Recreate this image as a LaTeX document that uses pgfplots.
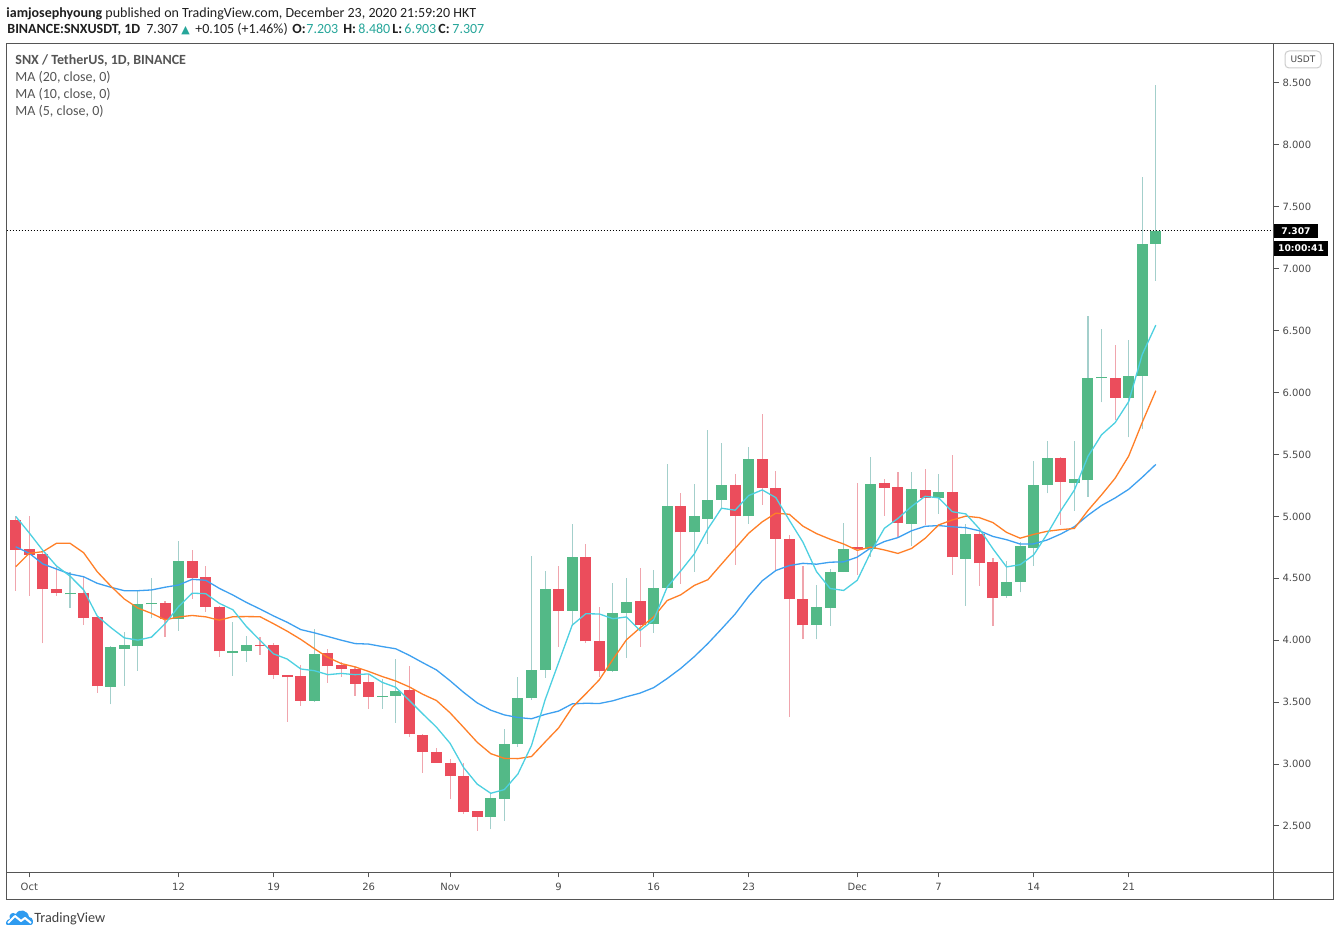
\documentclass[border=0pt]{standalone}
\usepackage{pgfplots}
\pgfplotsset{compat=1.18}
\usepackage{pgfplotstable}
\usepackage{fontspec}
\setmainfont{Carlito}
\newfontfamily\axf{DejaVu Sans}
\definecolor{upbody}{HTML}{53B987}
\definecolor{dnbody}{HTML}{EB4D5C}
\definecolor{upwick}{HTML}{A3CFCB}
\definecolor{dnwick}{HTML}{F0A5AD}
\definecolor{maA}{HTML}{3DA0F0}
\definecolor{maB}{HTML}{FF7F27}
\definecolor{maC}{HTML}{4DD0E1}
\definecolor{framecol}{HTML}{555555}
\definecolor{labcol}{HTML}{4A4A4A}
\definecolor{legcol}{HTML}{555555}
\definecolor{tealv}{HTML}{26A69A}
\definecolor{hdrcol}{HTML}{1F1F1F}
\definecolor{tvblue}{HTML}{2E9BF0}

% up (green) candles: day index (0 = Sep 30), open, high, low, close
\pgfplotstableread{
d o h l c
4 4.37 4.553 4.261 4.38
7 3.625 3.955 3.483 3.945
8 3.93 4.067 3.633 3.96
9 3.95 4.406 3.753 4.29
10 4.29 4.503 4.176 4.30
12 4.17 4.802 4.077 4.64
16 3.90 4.147 3.713 3.91
17 3.91 4.034 3.826 3.96
22 3.51 4.091 3.503 3.89
27 3.54 3.691 3.446 3.55
28 3.55 3.849 3.334 3.59
35 2.57 2.769 2.473 2.73
36 2.72 3.287 2.543 3.16
37 3.16 3.705 3.14 3.53
38 3.53 4.68 3.518 3.76
39 3.76 4.559 3.696 4.41
41 4.24 4.939 4.115 4.67
44 3.75 4.462 3.746 4.22
45 4.22 4.503 3.858 4.31
47 4.13 4.567 4.061 4.42
48 4.42 5.423 4.42 5.08
50 4.87 5.262 4.553 5.00
51 4.98 5.698 4.778 5.13
52 5.135 5.593 5.061 5.25
54 5.00 5.561 4.942 5.46
59 4.125 4.446 4.006 4.27
60 4.26 4.576 4.116 4.55
61 4.55 4.947 4.55 4.74
63 4.74 5.48 4.674 5.26
66 4.94 5.359 4.762 5.22
68 5.15 5.343 5.02 5.20
70 4.66 4.939 4.277 4.86
73 4.36 4.642 4.342 4.47
74 4.47 4.795 4.387 4.76
75 4.745 5.446 4.602 5.255
76 5.255 5.607 5.185 5.47
78 5.27 5.607 5.044 5.30
79 5.29 6.619 5.157 6.12
80 6.115 6.515 5.921 6.125
82 5.955 6.425 5.638 6.13
83 6.135 7.741 5.703 7.203
84 7.203 8.48 6.903 7.307
}\upc

% down (red) candles
\pgfplotstableread{
d o h l c
0 4.97 5.00 4.40 4.73
1 4.735 5.00 4.36 4.69
2 4.70 4.72 3.975 4.41
3 4.41 4.589 4.36 4.38
5 4.38 4.507 4.126 4.18
6 4.19 4.19 3.576 3.63
11 4.30 4.317 4.028 4.17
13 4.64 4.729 4.337 4.50
14 4.51 4.60 4.229 4.27
15 4.27 4.28 3.867 3.91
18 3.96 4.023 3.881 3.95
19 3.96 3.974 3.687 3.72
20 3.72 3.72 3.342 3.70
21 3.71 3.80 3.47 3.51
23 3.90 3.933 3.658 3.79
24 3.80 3.826 3.705 3.77
25 3.77 3.786 3.551 3.65
26 3.66 3.731 3.446 3.54
29 3.60 3.793 3.221 3.24
30 3.235 3.24 2.929 3.10
31 3.10 3.133 3.01 3.01
32 3.01 3.037 2.715 2.90
33 2.90 3.006 2.60 2.61
34 2.62 2.62 2.462 2.57
40 4.41 4.60 3.948 4.24
42 4.67 4.777 3.98 3.99
43 3.99 4.269 3.705 3.75
46 4.32 4.584 3.946 4.12
49 5.08 5.189 4.455 4.87
53 5.25 5.343 4.61 5.00
55 5.46 5.827 5.093 5.23
56 5.23 5.367 4.567 4.82
57 4.82 4.85 3.383 4.33
58 4.33 4.60 4.006 4.12
62 4.75 5.27 4.527 4.74
64 5.27 5.302 5.006 5.23
65 5.24 5.359 4.826 4.95
67 5.21 5.383 4.933 5.15
69 5.20 5.496 4.53 4.67
71 4.86 4.89 4.439 4.62
72 4.63 4.664 4.116 4.34
77 5.47 5.482 4.931 5.28
81 6.12 6.388 5.78 5.96
}\dnc

% moving averages: MA5, MA10, MA20
\pgfplotstableread{
d m5 m10 m20
0 5.00 4.594 4.755
1 4.866 4.702 4.702
2 4.725 4.715 4.616
3 4.60 4.783 4.575
4 4.518 4.783 4.535
5 4.408 4.707 4.513
6 4.196 4.554 4.46
7 4.103 4.438 4.428
8 4.019 4.333 4.40
9 4.001 4.26 4.40
10 4.025 4.217 4.406
11 4.133 4.165 4.428
12 4.272 4.188 4.446
13 4.38 4.20 4.492
14 4.376 4.189 4.484
15 4.298 4.162 4.419
16 4.246 4.19 4.365
17 4.11 4.191 4.305
18 4.00 4.19 4.252
19 3.89 4.133 4.196
20 3.848 4.073 4.145
21 3.768 4.007 4.086
22 3.754 3.932 4.06
23 3.722 3.861 4.03
24 3.732 3.811 4.00
25 3.722 3.785 3.973
26 3.728 3.748 3.969
27 3.66 3.707 3.949
28 3.62 3.671 3.931
29 3.514 3.623 3.878
30 3.404 3.563 3.818
31 3.298 3.513 3.76
32 3.168 3.414 3.673
33 2.972 3.296 3.579
34 2.838 3.176 3.494
35 2.764 3.084 3.435
36 2.794 3.046 3.397
37 2.92 3.044 3.376
38 3.15 3.061 3.366
39 3.518 3.178 3.401
40 3.82 3.292 3.428
41 4.122 3.458 3.486
42 4.214 3.567 3.491
43 4.212 3.681 3.489
44 4.174 3.846 3.511
45 4.188 4.004 3.544
46 4.078 4.10 3.573
47 4.164 4.189 3.617
48 4.43 4.321 3.691
49 4.56 4.367 3.773
50 4.698 4.443 3.868
51 4.90 4.489 3.974
52 5.066 4.615 4.091
53 5.05 4.74 4.211
54 5.168 4.864 4.355
55 5.214 4.956 4.48
56 5.152 5.026 4.563
57 4.968 5.017 4.603
58 4.792 4.921 4.621
59 4.554 4.861 4.614
60 4.418 4.816 4.63
61 4.402 4.777 4.633
62 4.484 4.726 4.671
63 4.712 4.752 4.746
64 4.904 4.729 4.797
65 4.984 4.701 4.829
66 5.08 4.741 4.884
67 5.162 4.823 4.92
68 5.15 4.931 4.926
69 5.038 4.971 4.916
70 5.02 5.002 4.909
71 4.90 4.99 4.884
72 4.738 4.95 4.838
73 4.592 4.871 4.812
74 4.61 4.824 4.777
75 4.689 4.855 4.778
76 4.859 4.88 4.81
77 5.047 4.893 4.858
78 5.213 4.903 4.917
79 5.485 5.048 5.009
80 5.659 5.174 5.088
81 5.757 5.308 5.149
82 5.927 5.487 5.219
83 6.308 5.76 5.316
84 6.545 6.015 5.42
}\mas

\begin{document}
\begin{tikzpicture}[x=0.5pt,y=0.5pt]
\fill[white] (0,0) rectangle (1340,936);
\begin{axis}[
  at={(3.25pt,31.85pt)}, anchor=south west,
  scale only axis, width=633.5pt, height=414.4pt,
  xmin=-0.68, xmax=92.67, ymin=2.1261, ymax=8.819,
  axis line style={draw=framecol, line width=0.5pt},
  tick align=outside, major tick length=2.5pt,
  tick style={draw=framecol, line width=0.5pt},
  xtick pos=left, ytick pos=right, yticklabel pos=right,
  xtick={1,12,19,26,32,40,47,54,62,68,75,82},
  xticklabels={Oct,12,19,26,Nov,9,16,23,Dec,7,14,21},
  ytick={2.5,3,3.5,4,4.5,5,5.5,6,6.5,7,7.5,8,8.5},
  /pgf/number format/assume math mode=true,
  yticklabel style={/pgf/number format/.cd, fixed, fixed zerofill, precision=3, /tikz/.cd, anchor=west, xshift=-1.5pt},
  ticklabel style={font=\axf\fontsize{5pt}{6pt}\selectfont, text=labcol},
  xticklabel style={yshift=0.5pt},
  clip=true,
]
% wicks
\addplot[draw=none, mark=none, forget plot,
  error bars/.cd, y dir=plus, y explicit, error mark=none,
  error bar style={draw=upwick, line width=0.55pt}]
  table[x=d, y=l, y error plus expr=\thisrow{h}-\thisrow{l}] {\upc};
\addplot[draw=none, mark=none, forget plot,
  error bars/.cd, y dir=plus, y explicit, error mark=none,
  error bar style={draw=dnwick, line width=0.55pt}]
  table[x=d, y=l, y error plus expr=\thisrow{h}-\thisrow{l}] {\dnc};
% bodies
\addplot[draw=none, mark=none, forget plot,
  error bars/.cd, y dir=plus, y explicit, error mark=none,
  error bar style={draw=upbody, line width=5.5pt}]
  table[x=d, y=o, y error plus expr={max(\thisrow{c}-\thisrow{o},0.012)}] {\upc};
\addplot[draw=none, mark=none, forget plot,
  error bars/.cd, y dir=plus, y explicit, error mark=none,
  error bar style={draw=dnbody, line width=5.5pt}]
  table[x=d, y=c, y error plus expr={max(\thisrow{o}-\thisrow{c},0.012)}] {\dnc};
% moving averages
\addplot[maA, line width=0.65pt, mark=none] table[x=d, y=m20] {\mas};
\addplot[maB, line width=0.65pt, mark=none] table[x=d, y=m10] {\mas};
\addplot[maC, line width=0.65pt, mark=none] table[x=d, y=m5] {\mas};
% last price line
\addplot[black, line width=0.5pt, dash pattern=on 0.5pt off 1pt, mark=none, forget plot]
  coordinates {(-0.68,7.307) (92.67,7.307)};
\end{axis}

% frame of the chart
\draw[framecol, line width=0.5pt] (6.5,36.7) rectangle (1333.5,892.5);
\draw[framecol, line width=0.5pt] (1273.5,36.7) -- (1273.5,892.5);
\draw[framecol, line width=0.5pt] (6.5,63.7) -- (1333.5,63.7);

% header
\node[anchor=base west, inner sep=0, text=hdrcol, font=\fontsize{7pt}{8pt}\selectfont]
  at (6,918.7) {\textbf{iamjosephyoung} published on TradingView.com, December 23, 2020 21:59:20 HKT};
\begin{scope}[every node/.style={anchor=base west, inner sep=0, text=hdrcol, font=\fontsize{7pt}{8pt}\selectfont}]
\node at (7,902) {\textbf{BINANCE:SNXUSDT, 1D}};
\node at (146,902) {7.307};
\node[text=tealv, font=\axf\fontsize{5.5pt}{6pt}\selectfont] at (181,902.5) {▲};
\node at (195,902) {+0.105 (+1.46\%)};
\node at (292,902) {\textbf{O:}};
\node[text=tealv] at (306,902) {7.203};
\node at (343,902) {\textbf{H:}};
\node[text=tealv] at (358,902) {8.480};
\node at (392,902) {\textbf{L:}};
\node[text=tealv] at (404,902) {6.903};
\node at (438,902) {\textbf{C:}};
\node[text=tealv] at (452,902) {7.307};
\end{scope}

% legend
\begin{scope}[every node/.style={anchor=base west, inner sep=0, text=legcol, font=\fontsize{7pt}{8pt}\selectfont}]
\node at (15,871) {\textbf{SNX / TetherUS, 1D, BINANCE}};
\node at (15,854) {MA (20, close, 0)};
\node at (15,837) {MA (10, close, 0)};
\node at (15,820) {MA (5, close, 0)};
\end{scope}

% USDT box
\draw[draw=black!20, line width=0.5pt, rounded corners=2pt, fill=white] (1285,868) rectangle (1321,885);
\node[text=labcol, font=\axf\fontsize{4.5pt}{5pt}\selectfont, inner sep=0] at (1303,876.5) {USDT};

% last price labels
\fill[black] (1274,698) rectangle (1318,712);
\node[text=white, font=\axf\bfseries\fontsize{4.6pt}{5pt}\selectfont, inner sep=0] at (1296,705) {7.307};
\fill[black] (1274,680) rectangle (1328,695);
\node[text=white, font=\axf\bfseries\fontsize{4.6pt}{5pt}\selectfont, inner sep=0] at (1301,687.5) {10:00:41};

% TradingView logo
\begin{scope}
\fill[tvblue] (7,11) -- (31,11) .. controls (34,11) and (34,19) .. (29,19)
  .. controls (28,26) and (19,28) .. (16,22) .. controls (12,25) and (8,21) .. (10,17)
  .. controls (6,17) and (5,11) .. (7,11) -- cycle;
\draw[white, line width=1pt, line join=round] (8,13) -- (15,20) -- (21,15) -- (25,18) -- (31,13);
\end{scope}
\node[anchor=base west, inner sep=0, text=hdrcol!85, font=\fontsize{7.1pt}{8pt}\selectfont] at (34,13.3) {TradingView};
\end{tikzpicture}
\end{document}
